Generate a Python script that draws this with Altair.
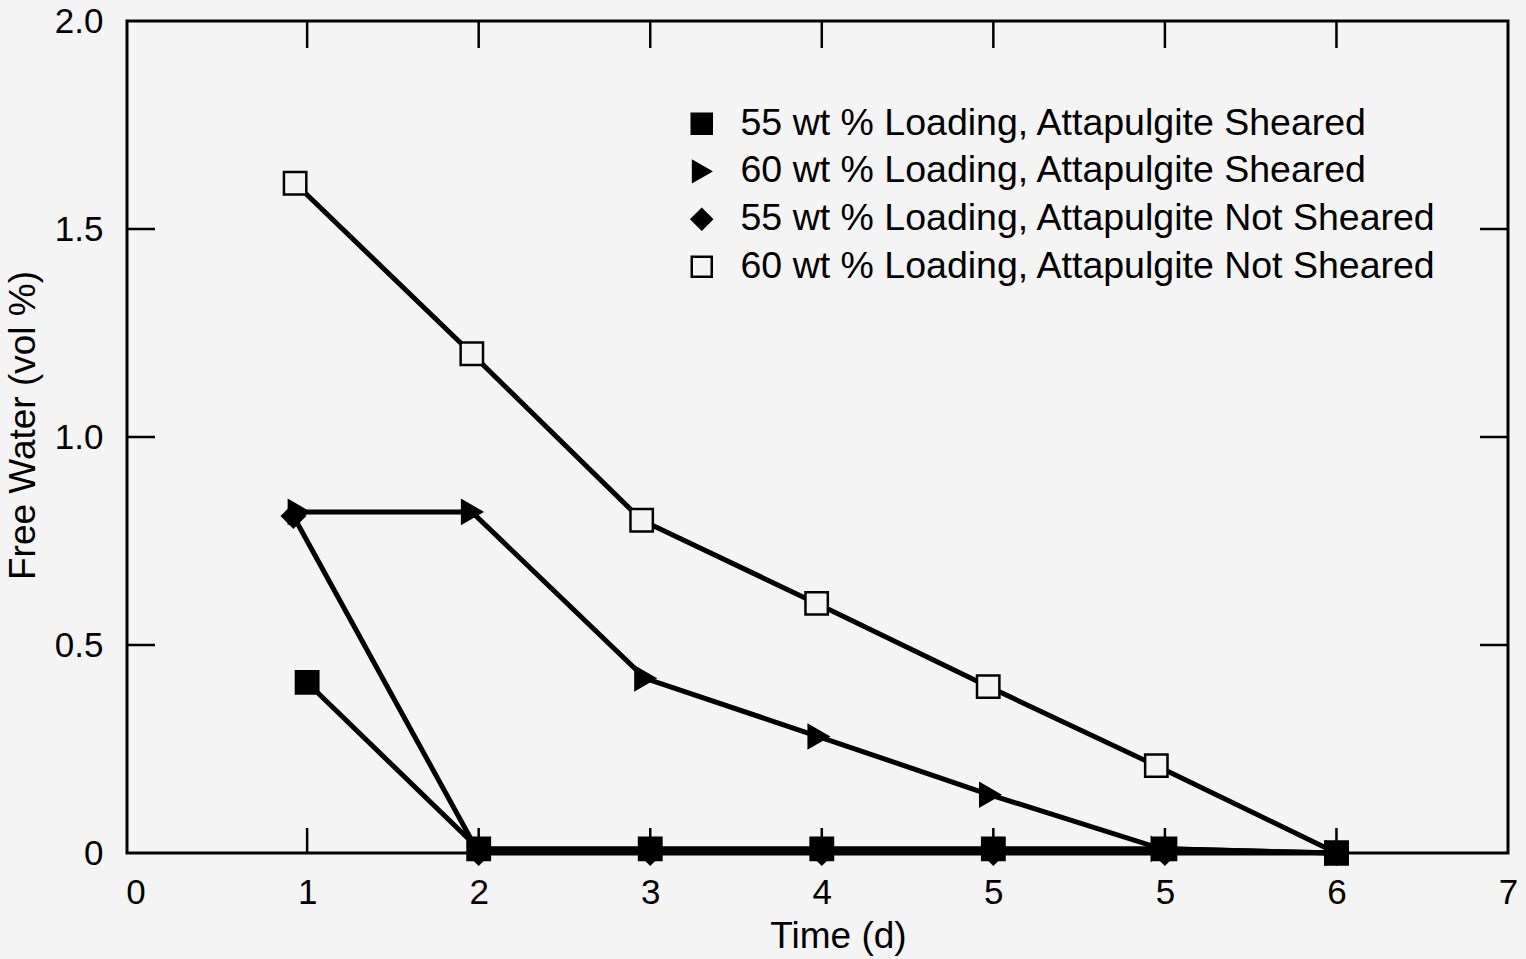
import json
import altair as alt
import pandas as pd

# ---- data ----
series_names = [
    "55 wt % Loading, Attapulgite Sheared",
    "60 wt % Loading, Attapulgite Sheared",
    "55 wt % Loading, Attapulgite Not Sheared",
    "60 wt % Loading, Attapulgite Not Sheared",
]
times_a = [1.0, 2, 3, 4, 5, 6, 7]
vals_a = [0.41, 0.01, 0.01, 0.01, 0.01, 0.01, 0.0]
times_b = [0.95, 1.96, 2.97, 3.98, 4.98, 5.98, 7]
vals_b = [0.82, 0.82, 0.42, 0.28, 0.14, 0.01, 0.0]
times_c = [0.92, 2, 3, 4, 5, 6, 7]
vals_c = [0.81, 0.0, 0.0, 0.0, 0.0, 0.0, 0.0]
times_d = [0.93, 1.96, 2.95, 3.97, 4.97, 5.95, 7]
vals_d = [1.61, 1.2, 0.8, 0.6, 0.4, 0.21, 0.0]

x_tick_values = [0, 1, 2, 3, 4, 5, 6, 7, 8]
x_tick_labels = ["0", "1", "2", "3", "4", "5", "5", "6", "7"]
y_tick_values = [0, 0.5, 1.0, 1.5, 2.0]
y_tick_labels = ["0", "0.5", "1.0", "1.5", "2.0"]
inner_x_ticks = [1, 2, 3, 4, 5, 6, 7]
inner_y_ticks = [0.5, 1.0, 1.5]

shapes = ["square", "triangle-right", "diamond", "square"]
BG = "#f4f4f4"
fills = ["black", "black", "black", BG]
strokes = ["black", "black", "black", "black"]

rows = []
for k, (name, ts, vs) in enumerate(zip(series_names, [times_a, times_b, times_c, times_d],
                                       [vals_a, vals_b, vals_c, vals_d])):
    for t, v in zip(ts, vs):
        rows.append({"series": name, "t": t, "v": v, "z": -k})
df = pd.DataFrame(rows)
# draw the first series on top
df_points = df.iloc[::-1].reset_index(drop=True)

W, H = 1381, 832
FONT = "Liberation Sans"

xs = alt.Scale(domain=[-0.05, 8.0], nice=False, zero=False)
ys = alt.Scale(domain=[0, 2.0], nice=False)

x_axis = alt.Axis(
    values=x_tick_values,
    labelExpr=f"{json.dumps(x_tick_labels)}[datum.value]",
    ticks=False, domain=False, grid=False,
    labelFontSize=35, labelFont=FONT, labelColor="black",
    labelPadding=22, labelFlush=False, labelOverlap=False,
    title="Time (d)", titleFontSize=37, titleFont=FONT,
    titleFontWeight="normal", titleColor="black", titlePadding=8,
    titleX=711,
)
y_axis = alt.Axis(
    values=y_tick_values,
    labelExpr=f"{json.dumps(y_tick_labels)}[indexof({json.dumps(y_tick_values)}, datum.value)]",
    ticks=False, domain=False, grid=False,
    labelFontSize=35, labelFont=FONT, labelColor="black",
    labelPadding=24, labelFlush=False, labelOverlap=False,
    title="Free Water (vol %)", titleFontSize=37, titleFont=FONT,
    titleFontWeight="normal", titleColor="black", titlePadding=12,
    titleY=404,
)

lines = alt.Chart(df).mark_line(color="black", strokeWidth=5).encode(
    x=alt.X("t:Q", scale=xs, axis=x_axis),
    y=alt.Y("v:Q", scale=ys, axis=y_axis),
    detail="series:N",
)

points = alt.Chart(df_points).mark_point(filled=True, strokeWidth=2.5,
                                         size=500, opacity=1).encode(
    x=alt.X("t:Q", scale=xs),
    y=alt.Y("v:Q", scale=ys),
    shape=alt.Shape("series:N",
                    scale=alt.Scale(domain=series_names, range=shapes),
                    legend=alt.Legend(title=None)),
    fill=alt.Fill("series:N",
                  scale=alt.Scale(domain=series_names, range=fills),
                  legend=alt.Legend(title=None)),
    stroke=alt.Stroke("series:N",
                      scale=alt.Scale(domain=series_names, range=strokes),
                      legend=alt.Legend(title=None)),
    order=alt.Order("z:Q"),
)

xt = pd.DataFrame({"t": inner_x_ticks})
yt = pd.DataFrame({"v": inner_y_ticks})

bottom_ticks = alt.Chart(xt).mark_rule(color="black", strokeWidth=2.5).encode(
    x=alt.X("t:Q", scale=xs), y=alt.value(H), y2=alt.value(H - 25))
top_ticks = alt.Chart(xt).mark_rule(color="black", strokeWidth=2.5).encode(
    x=alt.X("t:Q", scale=xs), y=alt.value(0), y2=alt.value(27))
left_ticks = alt.Chart(yt).mark_rule(color="black", strokeWidth=2.5).encode(
    y=alt.Y("v:Q", scale=ys), x=alt.value(0), x2=alt.value(28))
right_ticks = alt.Chart(yt).mark_rule(color="black", strokeWidth=2.5).encode(
    y=alt.Y("v:Q", scale=ys), x=alt.value(W), x2=alt.value(W - 28))

chart = alt.layer(
    bottom_ticks, top_ticks, left_ticks, right_ticks, lines, points
).properties(
    width=W, height=H,
    autosize=alt.AutoSizeParams(type="none"),
    padding={"left": 127, "top": 21, "right": 18, "bottom": 106},
    background=BG,
).configure_view(
    stroke="black", strokeWidth=3, fill=BG,
).configure_legend(
    orient="none", legendX=556, legendY=84,
    labelFont=FONT, labelFontSize=37.5, labelColor="black",
    labelLimit=0, labelOffset=20,
    symbolSize=400, symbolStrokeWidth=2.5,
    rowPadding=8.7, padding=0,
)

chart.save("out.html", embed_options={"renderer": "svg", "actions": False})
